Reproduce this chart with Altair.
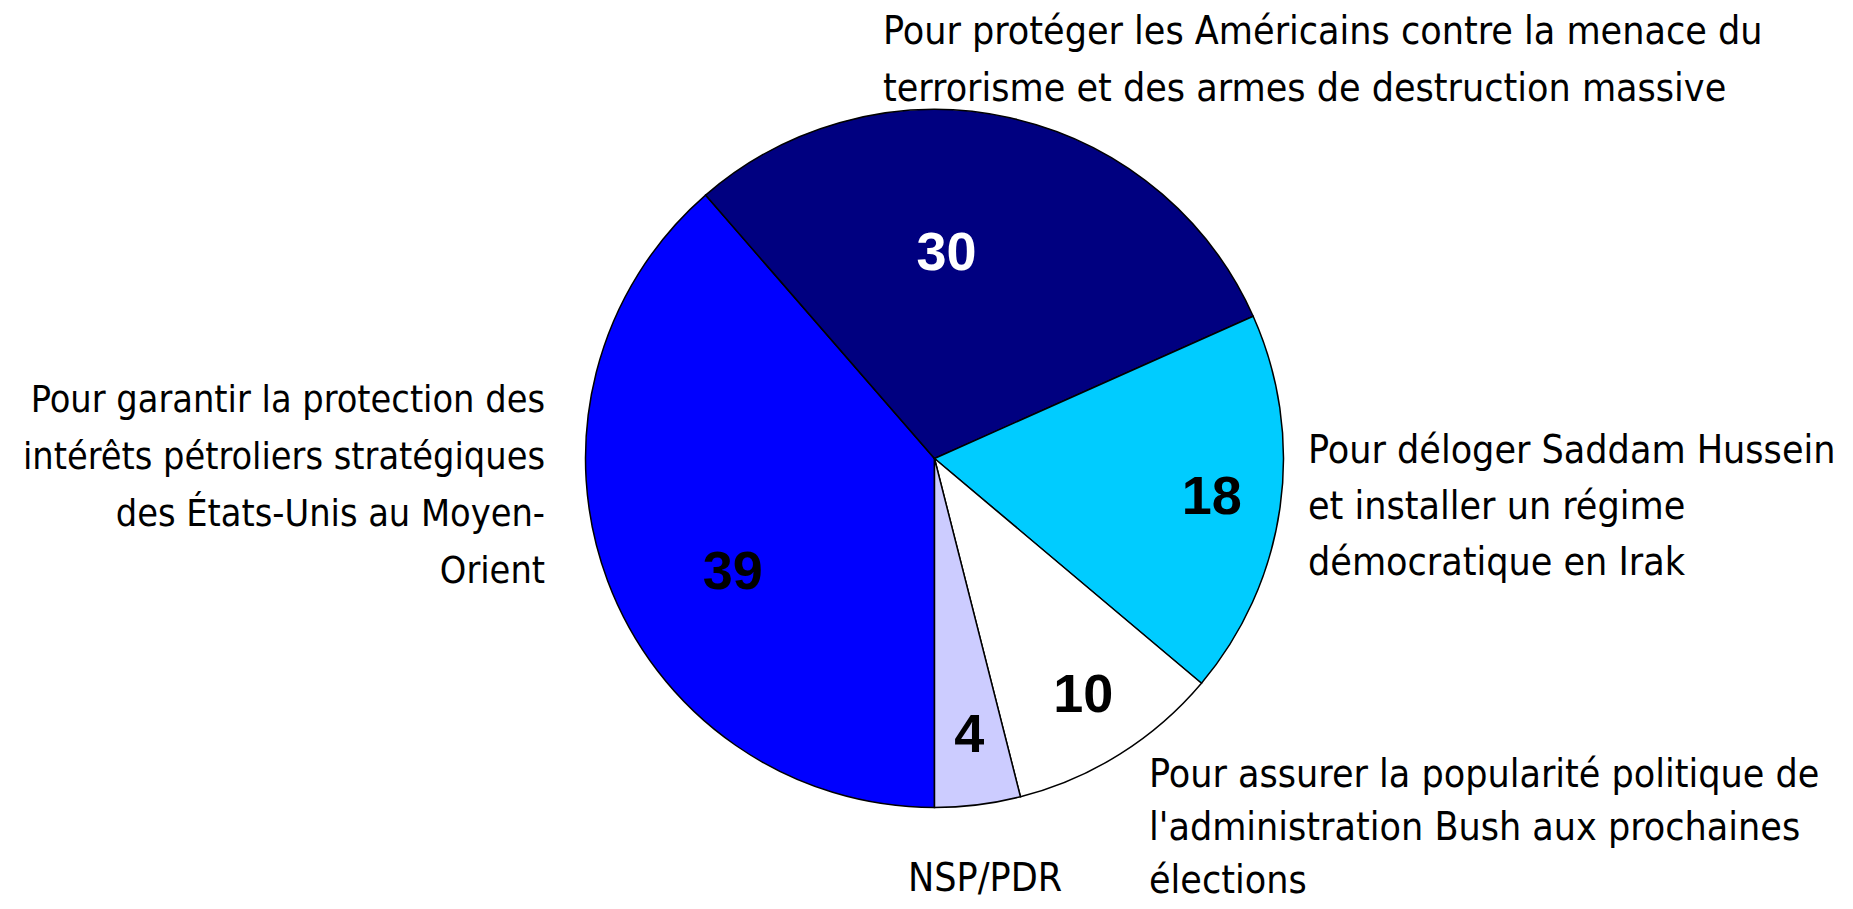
import math
import altair as alt
import pandas as pd

# ---- data ----
categories = [
    "Pétrole",
    "Terrorisme",
    "Saddam",
    "Popularité",
    "NSP/PDR",
]
values = [39, 30, 18, 10, 4]
slice_order = [1, 2, 3, 4, 5]
slice_colors = ["#0000FF", "#000080", "#00CCFF", "#FFFFFF", "#CCCCFF"]
label_lines = [
    ["Pour garantir la protection des", "intérêts pétroliers stratégiques",
     "des États-Unis au Moyen-", "Orient"],
    ["Pour protéger les Américains contre la menace du",
     "terrorisme et des armes de destruction massive"],
    ["Pour déloger Saddam Hussein", "et installer un régime",
     "démocratique en Irak"],
    ["Pour assurer la popularité politique de",
     "l'administration Bush aux prochaines", "élections"],
    ["NSP/PDR"],
]

df = pd.DataFrame({
    "cat": categories,
    "value": values,
    "ord": slice_order,
    "lines": label_lines,
})

CX, CY, R = 926.5, 450.5, 349
LABEL_FONT = "Liberation Sans Narrow, Arial Narrow, DejaVu Sans Condensed, sans-serif"
NUM_FONT = "Liberation Sans, Arial, sans-serif"

theta_enc = alt.Theta("value:Q", stack=True,
                      scale=alt.Scale(range=[math.pi, 3 * math.pi]))
order_enc = alt.Order("ord:Q", sort="ascending")

base = alt.Chart(df)

arcs = base.mark_arc(outerRadius=R, stroke="black", strokeWidth=1.5).encode(
    theta=theta_enc,
    order=order_enc,
    color=alt.Color("cat:N", scale=alt.Scale(domain=categories, range=slice_colors),
                    legend=None),
    x=alt.value(CX),
    y=alt.value(CY),
)


def num_layer(cats, radius, offset, color):
    names = ",".join("'" + c + "'" for c in cats)
    return base.transform_calculate(
        lbl=f"indexof([{names}], datum.cat) >= 0 ? datum.value + '' : ''"
    ).mark_text(
        radius=radius, thetaOffset=offset, fontSize=54, fontWeight="bold",
        font=NUM_FONT, align="center", baseline="middle", color=color,
    ).encode(
        theta=theta_enc, order=order_enc, text="lbl:N",
        x=alt.value(CX), y=alt.value(CY),
    )


nums = [
    num_layer(["Terrorisme"], 205, -0.159, "white"),
    num_layer(["Pétrole"], 232, -0.159, "black"),
    num_layer(["Saddam", "Popularité", "NSP/PDR"], 280, 0, "black"),
]


def annot(cat, x, y, align, size=39, lh=56):
    return base.transform_filter(alt.datum.cat == cat).mark_text(
        font=LABEL_FONT, fontSize=size, lineHeight=lh, align=align,
        baseline="alphabetic", color="black",
    ).encode(text="lines", x=alt.value(x), y=alt.value(y))


labels = [
    annot("Pétrole", 537, 404, "right", size=37.5, lh=57),
    annot("Terrorisme", 875, 36, "left", lh=57),
    annot("Saddam", 1300, 455, "left"),
    annot("Popularité", 1141, 779, "left", lh=53),
    annot("NSP/PDR", 900, 883, "left"),
]

chart = alt.layer(arcs, *nums, *labels).properties(
    width=1837, height=893, padding=0, autosize="none", background="white"
).configure_view(stroke=None)

chart.save("out.html", embed_options={"renderer": "svg", "actions": False})
